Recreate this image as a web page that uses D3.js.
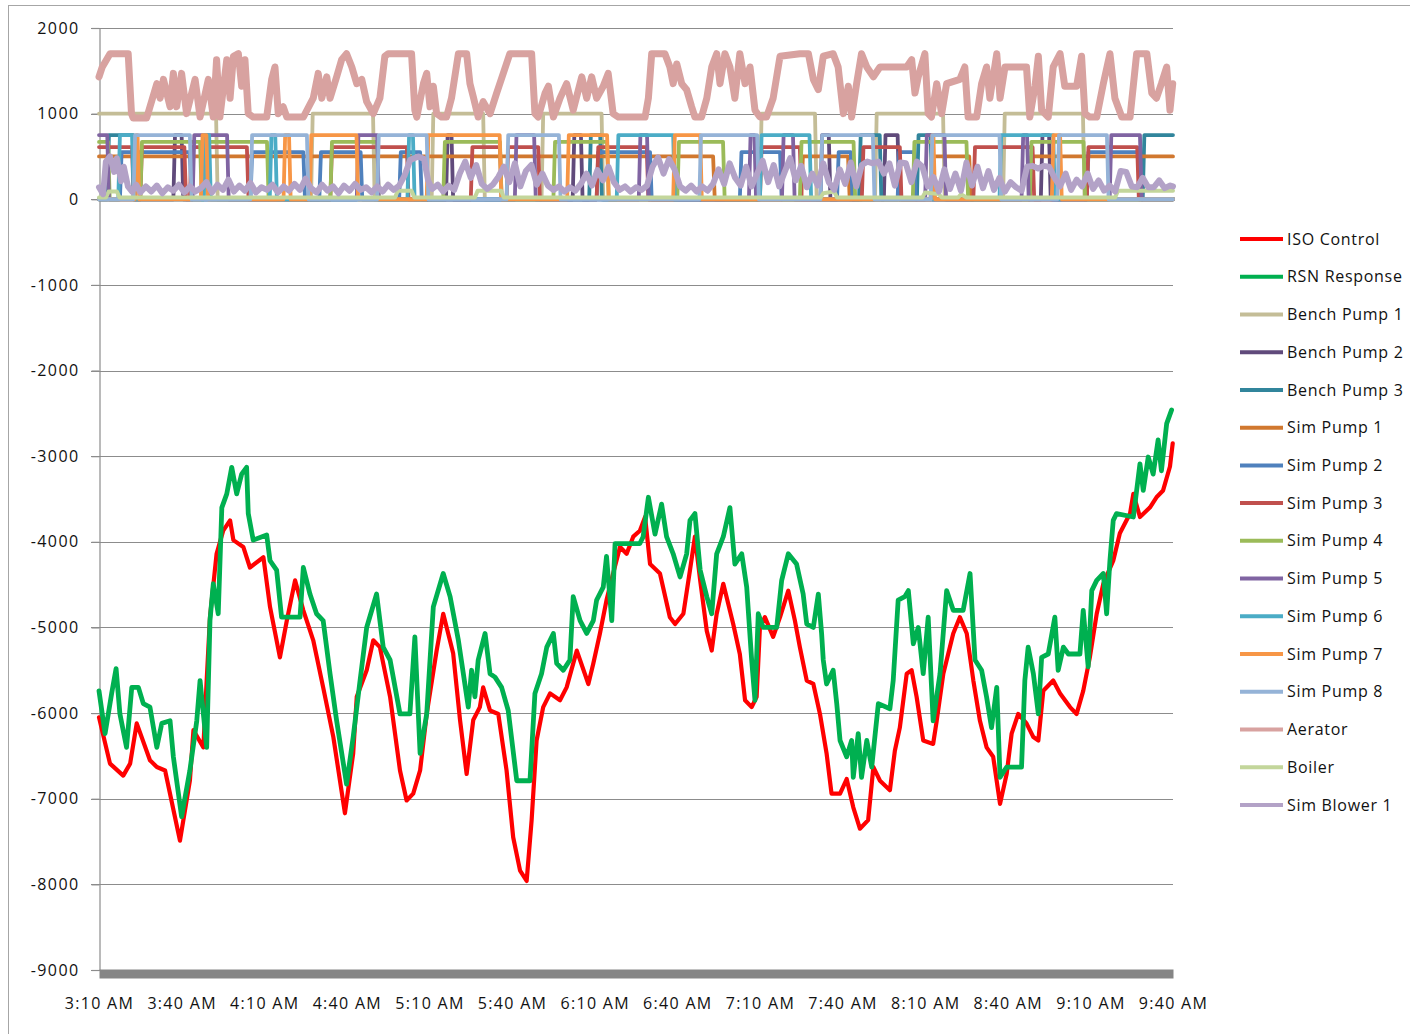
<!DOCTYPE html>
<html>
<head>
<meta charset="utf-8">
<script src="https://cdn.jsdelivr.net/npm/d3@7"></script>
<style>
  body { margin: 0; background: #fff; }
  text { font-family: "Open Sans", sans-serif; fill: #111; }
</style>
</head>
<body>
<svg id="chart"></svg>
<script>
// ---- data (minutes after 3:10 AM, value) ----
let timeLabels = ["3:10 AM", "3:40 AM", "4:10 AM", "4:40 AM", "5:10 AM", "5:40 AM", "6:10 AM",
  "6:40 AM", "7:10 AM", "7:40 AM", "8:10 AM", "8:40 AM", "9:10 AM", "9:40 AM"];
let yTicks = [2000, 1000, 0, -1000, -2000, -3000, -4000, -5000, -6000, -7000, -8000, -9000];

let seriesNames = ["ISO Control", "RSN Response", "Bench Pump 1", "Bench Pump 2", "Bench Pump 3",
  "Sim Pump 1", "Sim Pump 2", "Sim Pump 3", "Sim Pump 4", "Sim Pump 5", "Sim Pump 6",
  "Sim Pump 7", "Sim Pump 8", "Aerator", "Boiler", "Sim Blower 1"];
let seriesColors = ["#FF0000", "#00B050", "#C4BD97", "#604A7B", "#31859C", "#D1782F", "#4F81BD",
  "#C0504D", "#9BBB59", "#8064A2", "#4BACC6", "#F79646", "#95B3D7", "#D8A2A0", "#C3D69B", "#B3A2C7"];

let isoControl = [[0,-6050],[4,-6590],[8.8,-6730],[11.3,-6590],[13.7,-6120],[18.5,-6550],[21,-6630],[24,-6670],
  [29.4,-7490],[33,-6790],[34.3,-6200],[37.9,-6400],[39.1,-5620],[40.3,-4880],[42.7,-4140],[45.1,-3870],
  [47.6,-3750],[48.8,-3980],[52.4,-4060],[54.8,-4300],[59.7,-4180],[62.1,-4760],[65.7,-5350],[68.2,-4920],
  [71.2,-4450],[74.2,-4800],[77.8,-5150],[81.4,-5700],[85.1,-6280],[89.3,-7170],[92.3,-6470],[93.6,-5810],
  [97.2,-5500],[99.6,-5150],[102,-5230],[105.7,-5810],[109.3,-6670],[111.7,-7020],[114.1,-6940],[116.6,-6670],
  [119,-6010],[122.6,-5270],[125,-4840],[128.6,-5300],[131.1,-6080],[133.5,-6710],[135.9,-6080],[138.3,-5930],
  [139.5,-5700],[142,-5970],[145,-6010],[148,-6670],[150.4,-7450],[152.9,-7840],[155.3,-7960],[157.1,-7250],
  [158.9,-6320],[161.3,-5930],[163.8,-5770],[167.4,-5850],[169.8,-5700],[173.5,-5270],[177.7,-5660],
  [179.5,-5420],[181.9,-5070],[184.3,-4680],[186.7,-4370],[189.2,-4060],[191.6,-4140],[194,-3940],
  [196.4,-3870],[198.3,-3710],[200.1,-4260],[203.7,-4370],[207.3,-4880],[209.2,-4960],[212.2,-4840],
  [214.6,-4330],[216.4,-3940],[218.3,-4450],[220.7,-5040],[222.5,-5270],[224.3,-4840],[226.7,-4490],
  [230.3,-4960],[232.7,-5310],[234.6,-5850],[237,-5930],[238.8,-5810],[240,-5000],[241.8,-4880],[244.8,-5110],
  [247.3,-4880],[250.3,-4570],[252.7,-4920],[254.5,-5230],[257,-5620],[259.4,-5660],[261.8,-6010],
  [264.2,-6470],[266,-6940],[269.1,-6940],[271.5,-6770],[273.9,-7100],[276.3,-7350],[279.3,-7250],
  [281.2,-6630],[283.6,-6790],[287.2,-6900],[289,-6440],[290.8,-6170],[293.3,-5540],[295.1,-5500],
  [296.9,-5810],[299.3,-6320],[302.9,-6360],[304.2,-6090],[306.6,-5540],[310.2,-5070],[312.6,-4880],
  [315.1,-5070],[317.5,-5620],[319.9,-6090],[322.3,-6400],[324.7,-6510],[327.2,-7060],[329.6,-6710],
  [331.4,-6240],[333.8,-6010],[336.8,-6120],[339.3,-6280],[341.1,-6320],[342.9,-5740],[346.5,-5620],
  [349,-5770],[352.6,-5930],[355,-6010],[357.4,-5740],[359.8,-5350],[362.3,-4840],[364.7,-4490],
  [368.3,-4220],[370.7,-3900],[374.4,-3670],[375.6,-3440],[378,-3710],[381.6,-3600],[384,-3480],
  [386.4,-3400],[388.9,-3120],[389.9,-2850]];

let rsnResponse = [[0,-5740],[2.2,-6240],[4.6,-5770],[6.2,-5480],[7.6,-6010],[10,-6400],[11.9,-5700],
  [14.3,-5700],[16.1,-5890],[18.5,-5930],[21,-6400],[22.8,-6120],[25.8,-6090],[27,-6510],[30,-7210],
  [33,-6670],[35.5,-6090],[36.7,-5620],[39.1,-6400],[40.3,-4920],[41.5,-4490],[43.3,-4840],[44.6,-3600],
  [46.4,-3440],[48.2,-3130],[50,-3440],[51.8,-3210],[53.6,-3130],[54.2,-3670],[56,-3980],[60.9,-3920],
  [62.1,-4220],[64.5,-4330],[66.3,-4880],[73,-4880],[74.2,-4300],[76.6,-4610],[79,-4840],[81.4,-4920],
  [83.9,-5540],[86.3,-6090],[89.9,-6830],[92.3,-6280],[94.8,-5620],[97.2,-5000],[100.8,-4610],
  [103.2,-5230],[105.7,-5380],[109.3,-6010],[112.9,-6010],[114.7,-5110],[116.6,-6470],[119,-6010],
  [121.4,-4760],[125,-4370],[127.5,-4640],[130.5,-5150],[132.3,-5540],[134.1,-5930],[135.3,-5500],
  [136.5,-5810],[137.7,-5380],[140.2,-5070],[142,-5540],[143.8,-5580],[146.2,-5700],[148.6,-5970],
  [151.7,-6790],[156.5,-6790],[158.3,-5770],[160.7,-5540],[162.6,-5230],[165,-5070],[166.2,-5420],
  [168.6,-5500],[171,-5380],[172.2,-4640],[174.7,-4920],[177.1,-5070],[179.5,-4920],[180.7,-4680],
  [183.1,-4530],[184.3,-4170],[186.2,-4920],[187.4,-4020],[189.2,-4020],[196.4,-4020],[197.6,-3940],
  [199.5,-3480],[201.9,-3910],[204.3,-3560],[206.1,-3940],[208.5,-4140],[211,-4410],[213.4,-4140],
  [214.6,-3750],[216.4,-3670],[218.3,-4330],[220.7,-4640],[222.5,-4840],[224.3,-4140],[226.7,-3940],
  [229.1,-3600],[230.9,-4260],[233.4,-4140],[235.2,-4530],[237,-5380],[238.2,-5850],[239.4,-4840],
  [241.2,-5000],[246.1,-5000],[247.9,-4450],[250.3,-4140],[253.3,-4260],[255.7,-4610],[257,-4960],
  [259.4,-5000],[261.2,-4610],[262.4,-5070],[263,-5380],[264.2,-5660],[266.6,-5500],[267.9,-5890],
  [269.1,-6320],[271.5,-6510],[273.3,-6320],[273.9,-6750],[275.7,-6240],[276.9,-6750],[278.8,-6320],
  [280.6,-6630],[283,-5890],[287.2,-5950],[288.4,-5620],[290.2,-4680],[292.6,-4640],[293.9,-4570],
  [295.7,-5190],[297.5,-5000],[299.3,-5540],[301.1,-4880],[302.9,-6090],[305.4,-5540],[307.8,-4570],
  [310.2,-4800],[313.8,-4800],[316.3,-4370],[318.1,-5380],[320.5,-5500],[322.3,-5810],[324.1,-6170],
  [326,-5700],[327.2,-6750],[329.6,-6630],[335,-6630],[336.2,-5620],[337.4,-5230],[339.3,-5540],
  [341.1,-6010],[342.3,-5350],[344.7,-5310],[347.1,-4880],[348.3,-5500],[350.2,-5230],[352,-5310],
  [356.2,-5310],[357.4,-4800],[359.2,-5460],[360.5,-4570],[362.3,-4450],[364.7,-4370],[365.9,-4840],
  [367.1,-4220],[368.3,-3750],[369.5,-3670],[375.6,-3710],[378,-3090],[379.2,-3400],[381,-3010],
  [382.8,-3210],[384.6,-2810],[385.8,-3170],[387.7,-2620],[389.5,-2460]];

let aerator = [[0,1430],[1.2,1545],[4,1700],[10.6,1700],[11.8,1000],[12.4,950],[17.3,950],[21,1350],
  [22.2,1180],[23.4,1400],[25.8,1080],[27,1470],[28.2,1080],[30,1470],[31.8,1000],[34.9,1400],[36.7,960],
  [39.7,1400],[41.5,960],[42.7,1630],[43.9,960],[46.4,1630],[47.6,1180],[48.8,1670],[50.6,1700],[51.8,1320],
  [53,1630],[54.2,1000],[56,960],[60.9,960],[62.7,1400],[63.9,1545],[65.1,1000],[66.9,1080],[68.2,960],
  [74.2,960],[77.8,1180],[79.6,1470],[80.9,1180],[82.7,1430],[83.9,1180],[86.3,1430],[88.1,1630],
  [89.9,1700],[91.8,1545],[93.6,1350],[95.4,1400],[97.2,1140],[99.6,1000],[102,1180],[103.8,1670],
  [105,1700],[113.5,1700],[114.7,1040],[115.4,960],[117.8,1350],[119,1470],[120.2,1080],[121.4,1320],
  [122.6,1000],[124.4,960],[126.2,960],[128,1180],[130.5,1700],[133.5,1700],[134.7,1350],[135.9,1200],
  [137.7,960],[139.5,1140],[142,1000],[144.4,1240],[146.8,1470],[149.2,1700],[157.1,1700],[158.3,1000],
  [159.5,960],[162,1240],[163.2,1320],[165,960],[167.4,1180],[169.8,1350],[172.2,1040],[175.3,1430],
  [177.1,1180],[178.9,1430],[180.7,1180],[183.1,1320],[184.9,1470],[186.7,1000],[188.6,960],[198.3,960],
  [199.5,1180],[200.7,1700],[205.5,1700],[207.3,1545],[208.5,1350],[209.8,1580],[211.6,1350],[213.4,1280],
  [215.2,1080],[216.4,960],[218.8,960],[220.7,1180],[222.5,1545],[224.3,1700],[225.5,1350],[227.3,1700],
  [229.1,1545],[230.9,1180],[232.7,1700],[234.6,1350],[236.4,1545],[238.2,1040],[240,960],[242.4,960],
  [244.8,1180],[247.3,1670],[254.5,1700],[257.6,1700],[259.4,1400],[261.2,1280],[263,1670],[266.6,1700],
  [268.4,1545],[270.3,1000],[272.1,1320],[273.3,960],[275.1,1350],[276.9,1700],[278.8,1545],[281.2,1430],
  [283.6,1545],[293.3,1545],[295.1,1630],[296.3,1240],[297.5,1430],[299.9,1700],[301.1,1000],[302.3,960],
  [304.2,1350],[306,1000],[307.8,1350],[312.6,1400],[314.4,1545],[315.6,960],[318.7,960],[320.5,1350],
  [322.3,1545],[323.5,1180],[326,1700],[327.2,1180],[329,1545],[336.8,1545],[338,960],[339.9,1320],
  [341.1,1670],[342.3,1040],[344.7,960],[346.5,1545],[349,1700],[350.7,1320],[355,1320],[356.8,1670],
  [358,1000],[359.8,960],[362.3,960],[364.7,1350],[367.1,1700],[368.9,1180],[371.4,960],[374.4,960],
  [376.8,1700],[380.5,1700],[382.3,1240],[384,1180],[385.8,1350],[387.7,1545],[388.9,1040],[389.9,1350]];

let boiler = [[0,20],[2.5,20],[3.5,90],[6.5,90],[7.5,20],[107.5,20],[108.5,100],[113.5,100],[114.5,20],
  [136.5,20],[137.5,100],[146,100],[147,20],[262,20],[263,70],[267,90],[268,20],[299,20],[300,80],
  [305,60],[306,20],[312,20],[313,60],[315,20],[369,20],[370,100],[390,100]];

let simBlower1 = [[0,140],[1.5,60],[2.5,440],[4,500],[5.5,320],[6.5,480],[8,210],[9,380],[10.5,150],[12,90],
  [13.5,170],[15,80],[17,150],[19,90],[21,160],[23,70],[25,140],[27,100],[29,170],[31,80],[33,150],[35,90],
  [37,130],[39,200],[41,80],[43,170],[45,110],[47,230],[49,90],[51,160],[53,100],[55,190],[57,80],[59,140],
  [61,110],[63,170],[65,80],[67,150],[69,100],[71,180],[73,110],[75,240],[77,130],[79,80],[81,170],[83,100],
  [85,150],[87,70],[89,160],[91,100],[93,180],[95,110],[97,140],[99,80],[101,150],[103,90],[105,170],
  [107,110],[109,160],[111,280],[113,460],[116,500],[118,470],[119.5,220],[121,120],[123,170],[125,90],
  [127,160],[129,110],[131,300],[133,440],[135,250],[137,400],[139,180],[141,120],[143,170],[145,260],
  [147,380],[149,200],[151,420],[153,150],[155,330],[157,400],[159,170],[161,300],[163,160],[165,110],
  [167,150],[169,90],[171,140],[173,100],[175,180],[177,300],[179,160],[181,340],[183,220],[185,380],
  [187,200],[189,110],[191,150],[193,90],[195,140],[197,110],[199,160],[201,380],[203,490],[205,300],
  [207,470],[209,350],[211,150],[213,100],[215,160],[217,90],[219,150],[221,100],[223,180],[225,350],
  [227,180],[229,420],[231,250],[233,160],[235,380],[237,150],[239,300],[241,450],[243,200],[245,400],
  [247,150],[249,320],[251,480],[253,220],[255,390],[257,140],[259,300],[261,160],[263,420],[265,200],
  [267,110],[269,350],[271,180],[273,430],[275,150],[277,400],[279,440],[281,420],[283,440],[285,300],
  [287,420],[289,160],[291,430],[293,420],[295,200],[297,440],[299,380],[301,150],[303,260],[305,90],
  [307,350],[309,120],[311,300],[313,100],[315,430],[317,160],[319,380],[321,130],[323,330],[325,110],
  [327,250],[329,90],[331,200],[333,140],[335,100],[337,380],[339,390],[341,360],[343,390],[345,380],
  [347,250],[349,150],[351,300],[353,110],[355,230],[357,150],[359,300],[361,120],[363,220],[365,100],
  [367,160],[369,90],[371,330],[373,320],[375,150],[377,140],[379,250],[381,140],[383,140],[385,220],
  [387,130],[389,160],[390,150]];

// on/off pumps: running level and the [start, stop] minutes they ran
let pumpLevels = [1000, 750, 750, 500, 550, 610, 670, 750, 750, 750, 750];
let benchPump1On = [[0,42.5],[77,99.5],[120.8,139.5],[160.7,182.5],[240,260],[281.8,306.5],[328.3,357.3]];
let benchPump2On = [[27,30],[126,128],[172,175],[262,265],[285,290],[342,345]];
let benchPump3On = [[3,12.5],[178,182],[276,283.5],[297,302],[379,390]];
let simPump1On = [[0,223],[255,272],[302,316],[338,390]];
let simPump2On = [[7.6,33],[55,74.2],[80,95],[109,116.6],[180.7,200.1],[232.7,247.3],[268,273],[290,296],[358.7,378]];
let simPump3On = [[0,12],[15,31],[33,53.7],[84,111.8],[135,145.6],[148,159.5],[180.7,198.9],[240,254.5],[277,290.8],[317.5,339],[358.7,377]];
let simPump4On = [[0,3.3],[15,36.7],[38,61],[84,101],[125,145.6],[165,184.5],[210,226.6],[254.5,274],[295.5,315],[338,357.5]];
let simPump5On = [[0,3],[34,46.5],[93.6,101],[151,158],[196,199],[236,238],[248,252],[300,307],[335,337],[367,378]];
let simPump6On = [[7,12],[38,40],[62,64],[112,114],[188,208.5],[240,258],[327,346.5]];
let simPump7On = [[13,14],[37,39],[67,69],[76.5,93.5],[119,145.5],[170,184.5],[208.5,218.3],[302,303],[346,349]];
let simPump8On = [[12.5,33],[55,75.5],[101,119],[148,167],[218,239],[262,281],[302,327],[348,366]];

// ---- layout ----
let svgWidth = 1410;
let svgHeight = 1034;
let plot = { left: 99, right: 1173, top: 28, bottom: 970 };

let svg = d3.select("#chart")
  .attr("width", svgWidth)
  .attr("height", svgHeight);

svg.append("rect")
  .attr("width", svgWidth).attr("height", svgHeight)
  .attr("fill", "#fff");

// chart frame
svg.append("rect")
  .attr("x", 8.5).attr("y", 5.5)
  .attr("width", 1440).attr("height", 1060)
  .attr("fill", "none")
  .attr("stroke", "#a6a6a6");

let parseLabel = d3.timeParse("%I:%M %p");
let startTime = parseLabel(timeLabels[0]);
let tickTimes = timeLabels.map(parseLabel);
let toDate = m => new Date(startTime.getTime() + m * 60000);

let x = d3.scaleTime()
  .domain([startTime, tickTimes[tickTimes.length - 1]])
  .range([plot.left, plot.right]);
let y = d3.scaleLinear()
  .domain([-9000, 2000])
  .range([plot.bottom, plot.top]);

// gridlines
svg.append("g")
  .selectAll("line")
  .data(yTicks)
  .enter()
  .append("line")
  .attr("x1", plot.left - 8)
  .attr("x2", plot.right)
  .attr("y1", d => Math.round(y(d)) + 0.5)
  .attr("y2", d => Math.round(y(d)) + 0.5)
  .attr("stroke", "#8c8c8c")
  .attr("stroke-width", 1.2);

// y axis
let yAxis = svg.append("g")
  .attr("transform", `translate(${plot.left + 0.5}, 0)`)
  .call(d3.axisLeft(y).tickValues(yTicks).tickSize(8).tickSizeOuter(0).tickPadding(12)
    .tickFormat(d => String(d)));
yAxis.selectAll("path, line").attr("stroke", "#8c8c8c").attr("stroke-width", 1.2);
yAxis.selectAll("text")
  .attr("font-size", 16)
  .attr("letter-spacing", 1.4)
  .style("font-family", "'Open Sans', sans-serif");

// build on/off step series from the running intervals
function pumpSeries(intervals, level) {
  let pts = [];
  if (intervals[0][0] > 0) pts.push([0, 0]);
  intervals.forEach(([a, b]) => {
    if (a > 0) { pts.push([a, 0]); pts.push([a + 0.6, level]); }
    else pts.push([0, level]);
    if (b < 390) { pts.push([b, level]); pts.push([b + 0.6, 0]); }
    else pts.push([390, level]);
  });
  if (pts[pts.length - 1][0] < 390) pts.push([390, 0]);
  return pts;
}

let pumpOn = [benchPump1On, benchPump2On, benchPump3On, simPump1On, simPump2On, simPump3On,
  simPump4On, simPump5On, simPump6On, simPump7On, simPump8On];
let allSeries = [isoControl, rsnResponse]
  .concat(pumpOn.map((iv, i) => pumpSeries(iv, pumpLevels[i])))
  .concat([aerator, boiler, simBlower1]);
let strokeWidths = [4.2, 4.8, 3.8, 3.8, 3.8, 3.8, 3.8, 3.8, 3.8, 3.8, 3.8, 3.8, 3.8, 7, 4, 6];

let line = d3.line()
  .x(d => x(toDate(d[0])))
  .y(d => y(d[1]));

let lineGroup = svg.append("g");
allSeries.forEach((data, i) => {
  lineGroup.append("path")
    .datum(data)
    .attr("d", line)
    .attr("fill", "none")
    .attr("stroke", seriesColors[i])
    .attr("stroke-width", strokeWidths[i])
    .attr("stroke-linejoin", "round")
    .attr("stroke-linecap", "round");
});

// x axis (thick bar at the bottom)
let xAxis = svg.append("g")
  .attr("transform", `translate(0, ${plot.bottom + 3.5})`)
  .call(d3.axisBottom(x).tickValues(tickTimes).tickSize(0).tickSizeOuter(0)
    .tickFormat((d, i) => timeLabels[i]));
xAxis.select(".domain").attr("stroke", "#858585").attr("stroke-width", 9);
xAxis.selectAll("text")
  .attr("y", 30)
  .attr("dy", "0.35em")
  .attr("font-size", 16)
  .attr("letter-spacing", 1.3)
  .style("font-family", "'Open Sans', sans-serif");

// legend
let legend = svg.append("g")
  .selectAll("g")
  .data(seriesNames)
  .enter()
  .append("g")
  .attr("transform", (d, i) => `translate(1240, ${239 + i * 37.73})`);
legend.append("line")
  .attr("x1", 0).attr("x2", 43)
  .attr("stroke", (d, i) => seriesColors[i])
  .attr("stroke-width", 4);
legend.append("text")
  .attr("x", 47)
  .attr("dy", "0.35em")
  .attr("font-size", 16)
  .attr("letter-spacing", 0.7)
  .text(d => d);
</script>
</body>
</html>
